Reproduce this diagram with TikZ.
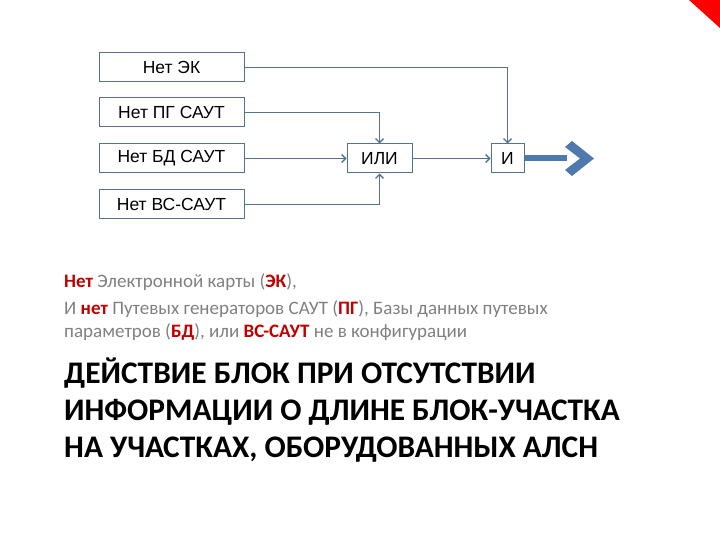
\documentclass[tikz,border=0pt]{standalone}
\usepackage{fontspec}
\setmainfont{Carlito}
\newfontfamily\boxfont{Liberation Sans}
\usetikzlibrary{arrows.meta}
\definecolor{lineblue}{RGB}{84,114,142}
\definecolor{thickblue}{RGB}{79,121,172}
\definecolor{bodygray}{RGB}{128,128,128}
\definecolor{hlred}{RGB}{192,0,0}
\tikzset{
  blk/.style={draw=lineblue, line width=1pt, fill=white, minimum height=29pt, inner sep=0pt,
    font=\boxfont\fontsize{17.5}{20}\selectfont, text=black},
  conn/.style={draw=lineblue, line width=1.1pt, -{Straight Barb[length=4pt,width=8pt,line width=1.3pt]}},
  body/.style={anchor=base west, inner sep=0pt, text=bodygray, font=\fontsize{19}{22}\selectfont},
  ttl/.style={anchor=base west, inner sep=0pt, text=black, font=\bfseries\fontsize{31.4}{36}\selectfont},
}
\newcommand{\hl}[1]{\textcolor{hlred}{\textbf{#1}}}
\begin{document}
\begin{tikzpicture}[x=1pt,y=-1pt]
\useasboundingbox (0,0) rectangle (720,540);
\fill[red] (689,0) -- (720,0) -- (720,28) -- cycle;

\node[blk, minimum width=145pt] (ek) at (171.5,67.5) {Нет ЭК};
\node[blk, minimum width=145pt] (pg) at (171.5,112.5) {Нет ПГ САУТ};
\node[blk, minimum width=145pt] (bd) at (171.5,158.5) {Нет БД САУТ};
\node[blk, minimum width=145pt] (vs) at (171.5,204.5) {Нет ВС-САУТ};
\node[blk, minimum width=65pt] (ili) at (379.5,158.5) {ИЛИ};
\node[blk, minimum width=33pt] (i) at (507.5,158.5) {И};

\draw[conn] (ek.east) -| (i.north);
\draw[conn] (pg.east) -| (ili.north);
\draw[conn] (bd.east) -- (ili.west);
\draw[conn] (vs.east) -| (ili.south);
\draw[conn] (ili.east) -- (i.west);

\coordinate (barend) at (567,158.5);
\fill[thickblue] ([yshift=-3pt]i.east) rectangle ([yshift=3pt]barend);
\fill[thickblue] (565,147) -- (572,141) -- (594,158.5) -- (572,176) -- (565,170) -- (580,158.5) -- cycle;

\node[body] (t1) at (64,287) {\hl{Нет} Электронной карты (\hl{ЭК}),};
\node[body] (t2) at (64,314) {И \hl{нет} Путевых генераторов САУТ (\hl{ПГ}), Базы данных путевых};
\node[body] (t3) at (64,337) {параметров (\hl{БД}), или \hl{ВС-САУТ} не в конфигурации};

\node[ttl] (h1) at (64,383) {ДЕЙСТВИЕ БЛОК ПРИ ОТСУТСТВИИ};
\node[ttl] (h2) at (64,420) {ИНФОРМАЦИИ О ДЛИНЕ БЛОК-УЧАСТКА};
\node[ttl] (h3) at (64,457) {НА УЧАСТКАХ, ОБОРУДОВАННЫХ АЛСН};
\end{tikzpicture}
\end{document}
